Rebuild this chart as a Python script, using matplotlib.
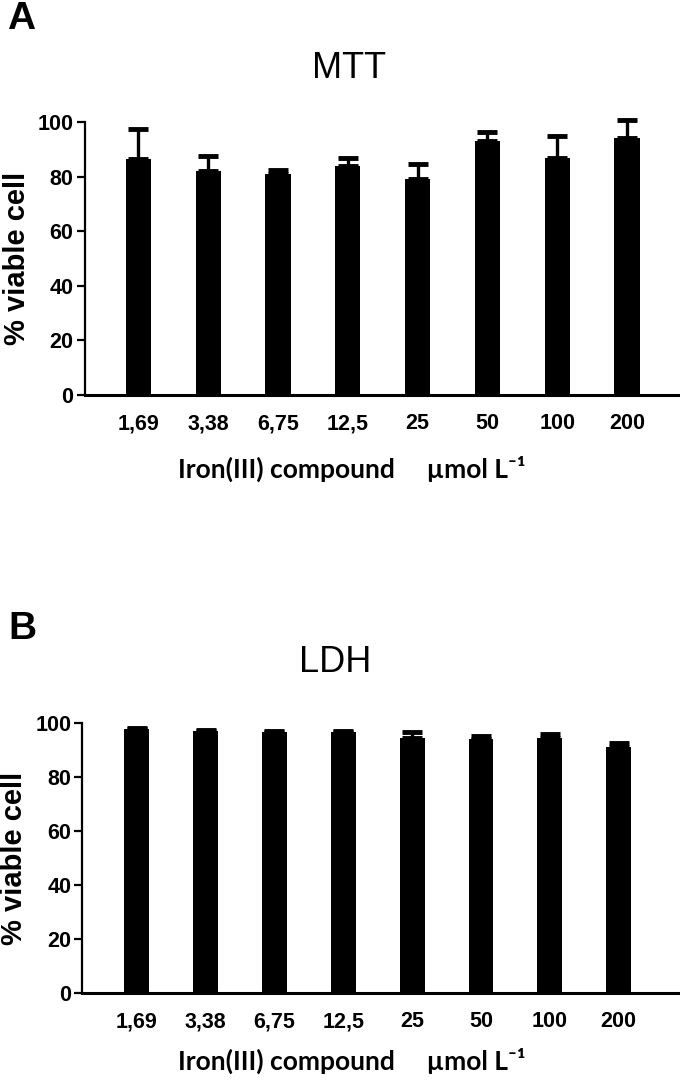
import numpy as np
import matplotlib
matplotlib.use('Agg')
import matplotlib.pyplot as plt

# concentrations (umol/L) shown as tick labels
doses = ['1,69', '3,38', '6,75', '12,5', '25', '50', '100', '200']

# MTT assay, % viable cell (mean and upper SD)
mtt_mean = [86.3, 82.0, 81.1, 83.7, 79.2, 93.0, 86.8, 94.3]
mtt_err = [11.3, 5.7, 1.5, 3.0, 5.5, 3.3, 7.9, 6.3]

# LDH assay, % viable cell
ldh_mean = [97.8, 97.3, 96.7, 96.7, 94.7, 94.2, 94.4, 91.1]
ldh_err = [0.4, 0.3, 0.3, 0.3, 2.0, 1.1, 1.5, 1.7]

W, H = 680, 1089
fig = plt.figure(figsize=(W / 100, H / 100), dpi=100)

tick_font = ['Liberation Sans', 'DejaVu Sans']
label_font = ['Lato', 'DejaVu Sans']


def px(x, y):
    return x / W, 1 - y / H


def panel(rect, means, errs, xlim, letter, letter_xy, title, title_xy, xlab_y):
    ax = fig.add_axes(rect)
    x = np.arange(len(doses))
    ax.bar(x, means, width=0.36, color='black', zorder=2)
    ax.errorbar(x, means, yerr=[np.zeros(len(errs)), errs], fmt='none',
                ecolor='black', elinewidth=2.4, capsize=7, capthick=3.5,
                clip_on=False, zorder=3)
    ax.set_xlim(*xlim)
    ax.set_ylim(0, 100)
    ax.set_yticks([0, 20, 40, 60, 80, 100])
    ax.set_xticks(x)
    ax.set_xticklabels(doses)
    for s in ['top', 'right']:
        ax.spines[s].set_visible(False)
    ax.spines['left'].set_linewidth(1.6)
    ax.spines['bottom'].set_linewidth(2.2)
    ax.tick_params(axis='y', length=6, width=1.6, pad=2)
    ax.tick_params(axis='x', length=0, pad=13)
    for t in ax.get_xticklabels() + ax.get_yticklabels():
        t.set_fontfamily(tick_font)
        t.set_fontweight('bold')
        t.set_fontsize(15.5)
    ax.set_ylabel('% viable cell', fontsize=21, fontweight='bold',
                  family=tick_font, labelpad=5)
    fig.text(*px(*letter_xy), letter, fontsize=28, fontweight='bold',
             family=tick_font, ha='center', va='center')
    fig.text(*px(*title_xy), title, fontsize=26, family=tick_font,
             ha='center', va='center')
    fig.text(*px(352, xlab_y), 'Iron(III) compound     \u00b5mol L\u207b\u00b9',
             fontsize=19, fontweight='bold', family=label_font,
             ha='center', va='center')
    return ax


panel([84.6 / W, 1 - 395 / H, 1 - 84.6 / W, (395 - 122) / H],
      mtt_mean, mtt_err, (-0.77, 7.76), 'A', (21, 19), 'MTT', (349, 68), 469)
panel([82.4 / W, 1 - 993.3 / H, 1 - 82.4 / W, (993.3 - 723.3) / H],
      ldh_mean, ldh_err, (-0.79, 7.89), 'B', (22, 629), 'LDH', (335, 662), 1061)

fig.savefig('out.png', dpi=100)
